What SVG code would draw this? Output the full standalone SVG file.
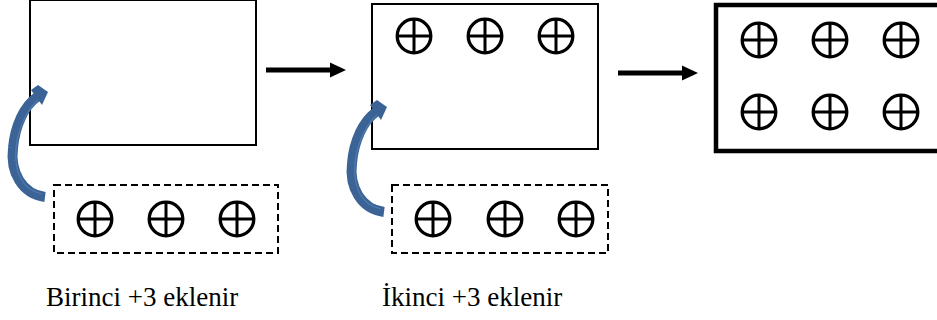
<svg xmlns="http://www.w3.org/2000/svg" width="937" height="320" viewBox="0 0 937 320">
  <style>
    .box { fill: #ffffff; stroke: #000000; stroke-width: 2; }
    .thick { fill: #ffffff; stroke: #000000; stroke-width: 4.5; }
    .dash { fill: none; stroke: #000000; stroke-width: 2; stroke-dasharray: 7 4; }
    .sym circle { fill: none; stroke: #000000; stroke-width: 3.3; }
    .sym path { fill: none; stroke: #000000; stroke-width: 3; }
    .flow { stroke: #000000; stroke-width: 5; fill: none; }
    .curve { fill: none; stroke: #3b6396; stroke-width: 10; }
    .curve-hi { fill: none; stroke: #5f8abd; stroke-width: 1.2; opacity: 0.6; }
    .head { fill: #3b6396; }
    .label { font-family: "Times New Roman", "Liberation Serif", "DejaVu Serif", serif; font-size: 27px; fill: #000000; }
  </style>
  <defs>
    <!-- circled plus symbol, centred on the origin -->
    <g id="plus" class="sym">
      <circle cx="0" cy="0" r="16.8"/>
      <path d="M0,-16.8 V16.8 M-16.8,0 H16.8"/>
    </g>
    <!-- curved blue arrow rising from a particle row into a box -->
    <g id="lift">
      <path class="curve" d="M45,197 C22,194 10,172 13,148 C15,126 24,106 37,97"/>
      <path class="curve-hi" d="M42,194 C22,190 14,172 16,148 C18,128 27,110 38,100"/>
      <polygon class="head" points="42,105 31,90 38,85 48,92"/>
    </g>
  </defs>

  <!-- stage 1: empty box -->
  <g id="box1">
    <rect class="box" x="30" y="0" width="226" height="145"/>
  </g>

  <!-- stage 2: box with three particles -->
  <g id="box2">
    <rect class="box" x="372" y="4" width="226" height="145"/>
    <use href="#plus" x="414" y="36"/>
    <use href="#plus" x="485" y="36"/>
    <use href="#plus" x="556" y="36"/>
  </g>

  <!-- stage 3: full box with six particles -->
  <g id="box3">
    <rect class="thick" x="716" y="5" width="240" height="146"/>
    <use href="#plus" x="759" y="40"/>
    <use href="#plus" x="830" y="40"/>
    <use href="#plus" x="901" y="40"/>
    <use href="#plus" x="759" y="112"/>
    <use href="#plus" x="830" y="112"/>
    <use href="#plus" x="901" y="112"/>
  </g>

  <!-- first batch of three -->
  <g id="batch1">
    <rect class="dash" x="54" y="185" width="224" height="68"/>
    <use href="#plus" x="95" y="219"/>
    <use href="#plus" x="166" y="219"/>
    <use href="#plus" x="237" y="219"/>
  </g>

  <!-- second batch of three -->
  <g id="batch2">
    <rect class="dash" x="392" y="185" width="216" height="68"/>
    <use href="#plus" x="433" y="219"/>
    <use href="#plus" x="505" y="219"/>
    <use href="#plus" x="576" y="219"/>
  </g>

  <!-- connectors -->
  <g id="connectors">
    <line class="flow" x1="266" y1="70" x2="332" y2="70"/>
    <polygon points="330,62.5 346,70 330,77.5" fill="#000000"/>
    <line class="flow" x1="618" y1="73" x2="684" y2="73"/>
    <polygon points="682,65.5 698,73 682,80.5" fill="#000000"/>
    <use href="#lift"/>
    <use href="#lift" transform="translate(339,15)"/>
  </g>

  <!-- captions -->
  <g id="captions">
    <text class="label" x="46" y="306">Birinci +3 eklenir</text>
    <text class="label" x="382" y="306">İkinci +3 eklenir</text>
  </g>
</svg>
